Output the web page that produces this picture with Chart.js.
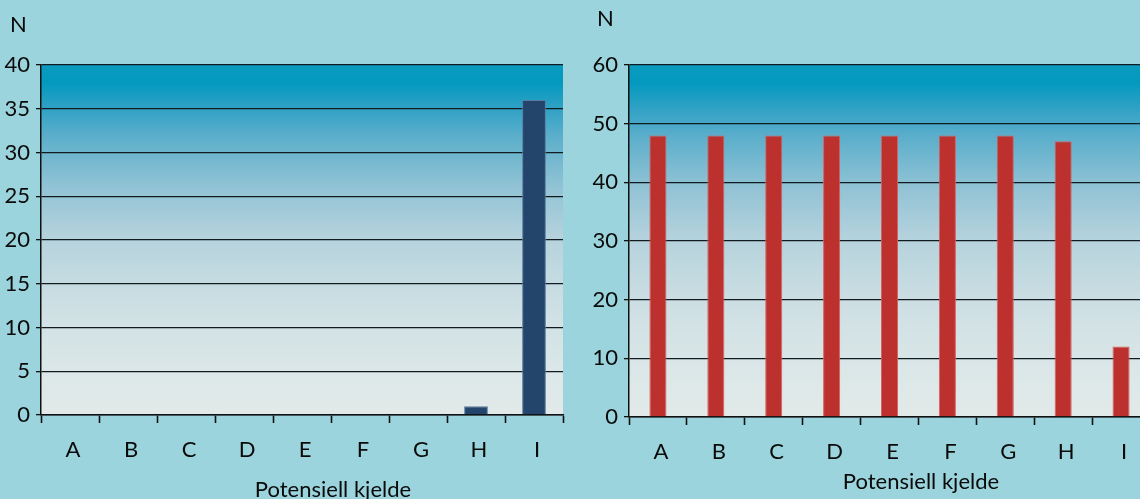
<!DOCTYPE html>
<html>
<head>
<meta charset="utf-8">
<script src="https://cdn.jsdelivr.net/npm/chart.js@4/dist/chart.umd.min.js"></script>
<style>
  html, body { margin: 0; padding: 0; width: 1140px; height: 499px; overflow: hidden; background: #9bd4dc; }
  .wrap { position: absolute; top: 0; }
  canvas { display: block; }
</style>
</head>
<body>
<div class="wrap" style="left:0px"><canvas id="left" width="575" height="499"></canvas></div>
<div class="wrap" style="left:575px"><canvas id="right" width="590" height="499"></canvas></div>
<script>
// Potential sources (x axis)
const categories = ['A', 'B', 'C', 'D', 'E', 'F', 'G', 'H', 'I'];
// Counts per source, left panel
const countsLeft = [0, 0, 0, 0, 0, 0, 0, 1, 36];
// Counts per source, right panel
const countsRight = [48, 48, 48, 48, 48, 48, 48, 47, 12];
// y axis ranges
const leftAxis = { max: 40, step: 5 };
const rightAxis = { max: 60, step: 10 };
const yCaption = 'N';
const xCaption = 'Potensiell kjelde';

const FONT = 'Lato, "Open Sans", sans-serif';
const INK = '#0a0a0a';

// Plot-area fill: deep teal at the top fading to pale grey-green
const gradientFill = {
  id: 'gradientFill',
  beforeDraw(chart) {
    const { ctx, chartArea: a } = chart;
    const g = ctx.createLinearGradient(0, a.top, 0, a.bottom);
    g.addColorStop(0.00, '#0a9bbe');
    g.addColorStop(0.05, '#0399bf');
    g.addColorStop(0.12, '#2ea1c5');
    g.addColorStop(0.20, '#5aaecb');
    g.addColorStop(0.35, '#92c3d5');
    g.addColorStop(0.50, '#b6d3dd');
    g.addColorStop(0.70, '#cfe0e4');
    g.addColorStop(0.90, '#dde8e8');
    g.addColorStop(1.00, '#e2eae9');
    ctx.save();
    ctx.fillStyle = g;
    ctx.fillRect(a.left, a.top, a.right - a.left, a.bottom - a.top);
    ctx.restore();
  }
};

// Axis captions ("N" above the y axis, source label under the x axis)
const captions = {
  id: 'captions',
  afterDraw(chart, args, opts) {
    const { ctx } = chart;
    ctx.save();
    ctx.fillStyle = INK;
    ctx.textBaseline = 'alphabetic';
    ctx.font = '22px ' + FONT;
    ctx.textAlign = 'left';
    ctx.fillText(yCaption, opts.nX, opts.nY);
    ctx.font = '22px ' + FONT;
    ctx.textAlign = 'center';
    ctx.fillText(xCaption, opts.tX, opts.tY);
    ctx.restore();
  }
};

function makeChart(id, values, axis, look) {
  return new Chart(document.getElementById(id), {
    type: 'bar',
    data: {
      labels: categories,
      datasets: [{
        data: values,
        backgroundColor: look.fill,
        borderColor: look.edge,
        borderWidth: 1,
        borderSkipped: 'bottom',
        categoryPercentage: 1,
        barPercentage: look.barPct
      }]
    },
    options: {
      responsive: false,
      animation: false,
      layout: { padding: { top: 65, right: look.padRight, left: 0, bottom: 0 } },
      plugins: {
        legend: { display: false },
        tooltip: { enabled: false },
        captions: look.captions
      },
      scales: {
        x: {
          grid: {
            offset: true,
            drawOnChartArea: false,
            drawTicks: true,
            tickLength: 8,
            tickColor: '#111',
            tickWidth: 1.6
          },
          border: { display: true, color: '#111', width: 1.6 },
          ticks: {
            color: INK,
            font: { family: FONT, size: 22 },
            padding: look.xPad,
            labelOffset: 3,
            maxRotation: 0
          },
          afterFit(scale) { scale.height = look.xHeight; }
        },
        y: {
          min: 0,
          max: axis.max,
          grid: {
            color: '#121c20',
            lineWidth: 1.3,
            drawTicks: true,
            tickLength: 5,
            tickColor: '#111'
          },
          border: { display: true, color: '#111', width: 1.5 },
          ticks: {
            stepSize: axis.step,
            color: INK,
            font: { family: FONT, size: 22 },
            padding: 6
          },
          afterFit(scale) { scale.width = look.yWidth; }
        }
      }
    },
    plugins: [gradientFill, captions]
  });
}

makeChart('left', countsLeft, leftAxis, {
  fill: '#23446b', edge: '#5b7c9f', barPct: 0.41,
  padRight: 12, yWidth: 41, xHeight: 84, xPad: 14,
  captions: { nX: 10, nY: 32, tX: 333, tY: 497 }
});

makeChart('right', countsRight, rightAxis, {
  fill: '#bc302e', edge: '#d4625f', barPct: 0.295,
  padRight: 15, yWidth: 54, xHeight: 82, xPad: 14,
  captions: { nX: 22, nY: 26, tX: 346, tY: 489 }
});
</script>
</body>
</html>
